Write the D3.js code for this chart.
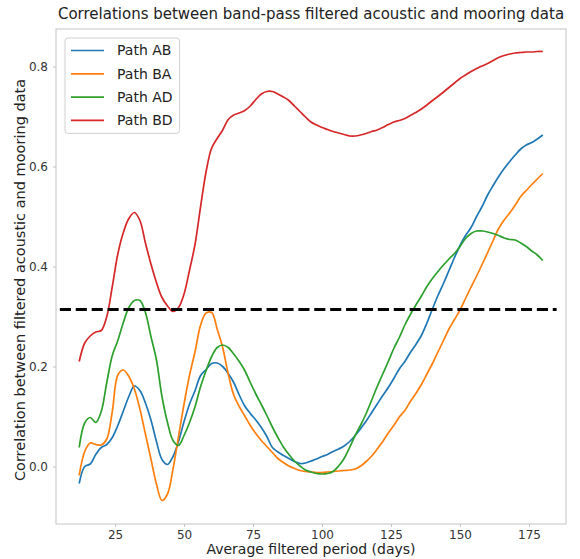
<!DOCTYPE html>
<html>
<head>
<meta charset="utf-8">
<script src="https://cdn.jsdelivr.net/npm/d3@7"></script>
<style>
  body { margin: 0; background: #fff; }
  svg { display: block; font-family: "DejaVu Sans", sans-serif; }
</style>
</head>
<body>
<svg id="chart" width="580" height="559"></svg>
<script>
// Average filtered period (days) for every band-pass window
const periods = [12, 14, 16, 18, 20, 22, 24, 26, 28, 30, 32, 34, 36, 38, 40, 42, 44, 46, 48, 50,
  52, 54, 56, 58, 60, 62, 64, 66, 68, 70, 72, 74, 76, 78, 80, 82, 84, 86, 88, 90,
  92, 94, 96, 98, 100, 102, 104, 106, 108, 110, 112, 114, 116, 118, 120, 122, 124, 126, 128, 130,
  132, 134, 136, 138, 140, 142, 144, 146, 148, 150, 152, 154, 156, 158, 160, 162, 164, 166, 168, 170,
  172, 174, 176, 178, 180];

const pathAB = [-0.034, 0.000, 0.005, 0.024, 0.038, 0.044, 0.058, 0.082, 0.111, 0.140, 0.161, 0.152, 0.127, 0.093, 0.050, 0.014, 0.004, 0.020, 0.050, 0.090,
  0.125, 0.152, 0.182, 0.194, 0.206, 0.207, 0.200, 0.186, 0.168, 0.143, 0.121, 0.106, 0.093, 0.078, 0.060, 0.038, 0.029, 0.022, 0.016, 0.010,
  0.006, 0.007, 0.011, 0.015, 0.020, 0.024, 0.030, 0.035, 0.041, 0.050, 0.062, 0.076, 0.091, 0.108, 0.125, 0.142, 0.158, 0.176, 0.195, 0.210,
  0.228, 0.244, 0.262, 0.287, 0.315, 0.342, 0.366, 0.392, 0.418, 0.442, 0.462, 0.478, 0.500, 0.520, 0.543, 0.562, 0.580, 0.596, 0.610, 0.623,
  0.635, 0.643, 0.648, 0.655, 0.663];

const pathBA = [-0.018, 0.030, 0.047, 0.044, 0.043, 0.055, 0.110, 0.183, 0.193, 0.180, 0.155, 0.115, 0.065, 0.015, -0.035, -0.068, -0.055, -0.005, 0.060, 0.125,
  0.183, 0.230, 0.283, 0.307, 0.308, 0.275, 0.238, 0.185, 0.143, 0.120, 0.101, 0.082, 0.066, 0.052, 0.040, 0.028, 0.016, 0.008, 0.001, -0.004,
  -0.008, -0.010, -0.011, -0.012, -0.012, -0.011, -0.010, -0.009, -0.008, -0.007, -0.005, 0.001, 0.010, 0.021, 0.035, 0.050, 0.067, 0.082, 0.099, 0.112,
  0.130, 0.146, 0.164, 0.185, 0.206, 0.229, 0.252, 0.275, 0.294, 0.313, 0.336, 0.359, 0.381, 0.404, 0.428, 0.452, 0.476, 0.493, 0.507, 0.523,
  0.540, 0.552, 0.564, 0.575, 0.586];

const pathAD = [0.038, 0.087, 0.098, 0.088, 0.110, 0.168, 0.222, 0.252, 0.288, 0.318, 0.332, 0.332, 0.308, 0.260, 0.213, 0.140, 0.088, 0.052, 0.042, 0.062,
  0.088, 0.120, 0.160, 0.192, 0.220, 0.238, 0.243, 0.238, 0.225, 0.210, 0.192, 0.168, 0.145, 0.124, 0.102, 0.079, 0.058, 0.039, 0.024, 0.011,
  0.001, -0.007, -0.011, -0.014, -0.015, -0.014, -0.010, 0.001, 0.016, 0.038, 0.062, 0.083, 0.106, 0.133, 0.160, 0.185, 0.210, 0.236, 0.258, 0.283,
  0.304, 0.323, 0.341, 0.360, 0.376, 0.390, 0.403, 0.415, 0.426, 0.440, 0.456, 0.466, 0.471, 0.471, 0.469, 0.466, 0.462, 0.457, 0.454, 0.453,
  0.447, 0.440, 0.431, 0.423, 0.412];

const pathBD = [0.210, 0.247, 0.261, 0.269, 0.272, 0.300, 0.360, 0.425, 0.468, 0.496, 0.508, 0.492, 0.447, 0.405, 0.368, 0.338, 0.321, 0.310, 0.318, 0.345,
  0.393, 0.445, 0.520, 0.590, 0.637, 0.656, 0.673, 0.694, 0.703, 0.707, 0.712, 0.721, 0.734, 0.745, 0.750, 0.750, 0.745, 0.739, 0.732, 0.721,
  0.710, 0.699, 0.689, 0.683, 0.678, 0.674, 0.670, 0.667, 0.664, 0.661, 0.661, 0.663, 0.666, 0.670, 0.673, 0.678, 0.684, 0.689, 0.692, 0.696,
  0.702, 0.708, 0.715, 0.723, 0.732, 0.740, 0.749, 0.758, 0.767, 0.776, 0.783, 0.790, 0.796, 0.801, 0.806, 0.812, 0.818, 0.822, 0.825, 0.827,
  0.828, 0.829, 0.829, 0.830, 0.830];

const seriesNames = ["Path AB", "Path BA", "Path AD", "Path BD"];
const seriesColors = ["#1f77b4", "#ff7f0e", "#2ca02c", "#d62728"];

// Significance threshold drawn as a dashed horizontal line
const thresholdValue = 0.314;
const thresholdPeriods = [5, 185];

const xTicks = [25, 50, 75, 100, 125, 150, 175];
const yTicks = [0.0, 0.2, 0.4, 0.6, 0.8];

const titleText = "Correlations between band-pass filtered acoustic and mooring data";
const xLabelText = "Average filtered period (days)";
const yLabelText = "Correlation between filtered acoustic and mooring data";

// ---- layout ----
const plot = { left: 56, right: 566, top: 29, bottom: 524 };
const frameColor = "#c4c4c4";
const svg = d3.select("#chart");

const x = d3.scaleLinear().domain([3.6, 188.4]).range([plot.left, plot.right]);
const y = d3.scaleLinear().domain([-0.115, 0.875]).range([plot.bottom, plot.top]);

// axes: short light ticks with dark labels
const xAxis = svg.append("g")
  .attr("transform", `translate(0,${plot.bottom})`)
  .call(d3.axisBottom(x).tickValues(xTicks).tickSize(3).tickPadding(3).tickFormat(d3.format("d")));
const yAxis = svg.append("g")
  .attr("transform", `translate(${plot.left},0)`)
  .call(d3.axisLeft(y).tickValues(yTicks).tickSize(3).tickPadding(5).tickFormat(d3.format(".1f")));
[xAxis, yAxis].forEach(g => {
  g.select(".domain").remove();
  g.selectAll(".tick line").attr("stroke", frameColor);
  g.selectAll("text").attr("font-size", 12).attr("fill", "#333").attr("font-family", "DejaVu Sans, sans-serif");
});

// series lines
const seriesValues = [pathAB, pathBA, pathAD, pathBD];
const line = d3.line()
  .x(d => x(d[0]))
  .y(d => y(d[1]))
  .curve(d3.curveCatmullRom.alpha(0.5));

const lines = svg.append("g");
seriesValues.forEach((vals, i) => {
  lines.append("path")
    .datum(periods.map((p, k) => [p, vals[k]]))
    .attr("fill", "none")
    .attr("stroke", seriesColors[i])
    .attr("stroke-width", 1.7)
    .attr("stroke-linejoin", "round")
    .attr("d", line);
});

// threshold
svg.append("line")
  .attr("x1", x(thresholdPeriods[0])).attr("x2", x(thresholdPeriods[1]))
  .attr("y1", y(thresholdValue)).attr("y2", y(thresholdValue))
  .attr("stroke", "#000").attr("stroke-width", 3)
  .attr("stroke-dasharray", "11.1,4.8");

// frame
svg.append("rect")
  .attr("x", plot.left).attr("y", plot.top)
  .attr("width", plot.right - plot.left).attr("height", plot.bottom - plot.top)
  .attr("fill", "none").attr("stroke", frameColor).attr("stroke-width", 1);

// legend
const legend = svg.append("g");
const legX = 65, legY = 38, rowH = 23.3;
const legBox = legend.append("rect")
  .attr("x", legX).attr("y", legY).attr("rx", 3).attr("ry", 3)
  .attr("fill", "#fff").attr("fill-opacity", 0.8)
  .attr("stroke", "#d0d0d0").attr("stroke-width", 1);
let maxTextRight = 0;
seriesNames.forEach((name, i) => {
  const cy = legY + 12.5 + i * rowH;
  legend.append("line")
    .attr("x1", legX + 6).attr("x2", legX + 39)
    .attr("y1", cy).attr("y2", cy)
    .attr("stroke", seriesColors[i]).attr("stroke-width", 1.7);
  const t = legend.append("text")
    .attr("x", legX + 52).attr("y", cy).attr("dy", "0.35em")
    .attr("font-size", 14).attr("fill", "#222")
    .text(name);
  maxTextRight = Math.max(maxTextRight, legX + 52 + t.node().getComputedTextLength());
});
legBox.attr("width", maxTextRight + 7 - legX).attr("height", 12.5 + 3 * rowH + 13);

// title and axis labels
svg.append("text")
  .attr("x", (plot.left + plot.right) / 2).attr("y", 19)
  .attr("text-anchor", "middle").attr("font-size", 15).attr("fill", "#222")
  .text(titleText);
svg.append("text")
  .attr("x", (plot.left + plot.right) / 2).attr("y", 554)
  .attr("text-anchor", "middle").attr("font-size", 14).attr("fill", "#222")
  .text(xLabelText);
svg.append("text")
  .attr("transform", `translate(25,280) rotate(-90)`)
  .attr("text-anchor", "middle").attr("font-size", 14.5).attr("fill", "#222")
  .text(yLabelText);
</script>
</body>
</html>
